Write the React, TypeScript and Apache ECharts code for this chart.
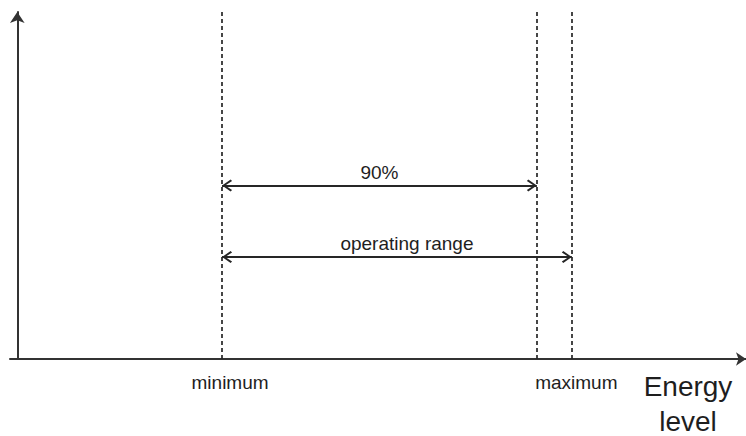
import React, { useEffect, useRef } from "react";
import * as echarts from "echarts";

// Thresholds on the energy axis (x, arbitrary units 0..100)
const thresholdValues = [28.1, 71.3, 76.1];
const thresholdLabels = ["minimum", "", "maximum"];
const thresholdLabelShift = [16, 0, 9];

// Double-headed range arrows
const rangeLabels = ["90%", "operating range"];
const rangeStart = [28.1, 28.1];
const rangeEnd = [71.3, 76.1];
const rangeLevels = [50, 29.4];
const rangeLabelShift = [0, 20];

const xAxisName = "Energy\nlevel";

const FONT = "'Liberation Sans', Arial, sans-serif";
const INK = "#1e1e1e";

// open chevron with its tip at the centre of its bounding box
const CHEVRON =
  "path://M6,-10 L6.01,-10 L6,-9.99 Z M6,0 L12,8.6 L10.6,10 L6,3.2 L1.4,10 L0,8.6 Z";

export default function App() {
  const ref = useRef<HTMLDivElement>(null);
  useEffect(() => {
    const chart = echarts.init(ref.current!, null, { renderer: "svg" });

    const dashedData = thresholdValues.map((v, i) => [
      {
        coord: [v, 0],
        label: {
          show: thresholdLabels[i] !== "",
          formatter: thresholdLabels[i],
          position: "start",
          distance: 14,
          padding: [0, 0, 0, thresholdLabelShift[i]],
        },
      },
      { coord: [v, 100] },
    ]);

    const arrowData = rangeLabels.map((name, i) => [
      {
        coord: [rangeStart[i], rangeLevels[i]],
        label: { formatter: name, padding: [0, 0, 0, rangeLabelShift[i]] },
      },
      { coord: [rangeEnd[i], rangeLevels[i]] },
    ]);

    chart.setOption({
      animation: false,
      backgroundColor: "#ffffff",
      grid: { left: 10, right: 0, top: 12, bottom: 77 },
      xAxis: {
        type: "value",
        min: -1,
        max: 100,
        splitLine: { show: false },
        axisTick: { show: false },
        axisLabel: { show: false },
        axisLine: {
          onZero: true,
          symbol: ["none", "arrow"],
          symbolSize: [10, 10],
          lineStyle: { color: "#333", width: 2 },
        },
      },
      yAxis: {
        type: "value",
        min: 0,
        max: 100,
        splitLine: { show: false },
        axisTick: { show: false },
        axisLabel: { show: false },
        axisLine: {
          onZero: true,
          symbol: ["none", "arrow"],
          symbolSize: [11, 11],
          lineStyle: { color: "#333", width: 2 },
        },
      },
      graphic: [
        {
          type: "text",
          x: 688,
          y: 369,
          style: {
            text: xAxisName,
            font: `28px ${FONT}`,
            lineHeight: 35,
            fill: INK,
            align: "center",
            verticalAlign: "top",
          },
        },
      ],
      series: [
        {
          type: "line",
          data: [],
          silent: true,
          markLine: {
            silent: true,
            symbol: "none",
            animation: false,
            lineStyle: { type: [4, 3], width: 1.7, color: "#262626" },
            label: {
              color: INK,
              fontFamily: FONT,
              fontSize: 19,
            },
            data: dashedData,
          },
        },
        {
          type: "line",
          data: [],
          silent: true,
          markLine: {
            silent: true,
            symbol: [CHEVRON, CHEVRON],
            symbolSize: [12, 20],
            animation: false,
            lineStyle: { type: "solid", width: 2, color: "#262626" },
            label: {
              show: true,
              position: "middle",
              distance: 4,
              color: INK,
              fontFamily: FONT,
              fontSize: 19,
            },
            data: arrowData,
          },
        },
      ],
    });
    return () => chart.dispose();
  }, []);

  return (
    <div
      ref={ref}
      style={{ position: "absolute", left: 0, top: 0, width: 746, height: 436 }}
    />
  );
}
